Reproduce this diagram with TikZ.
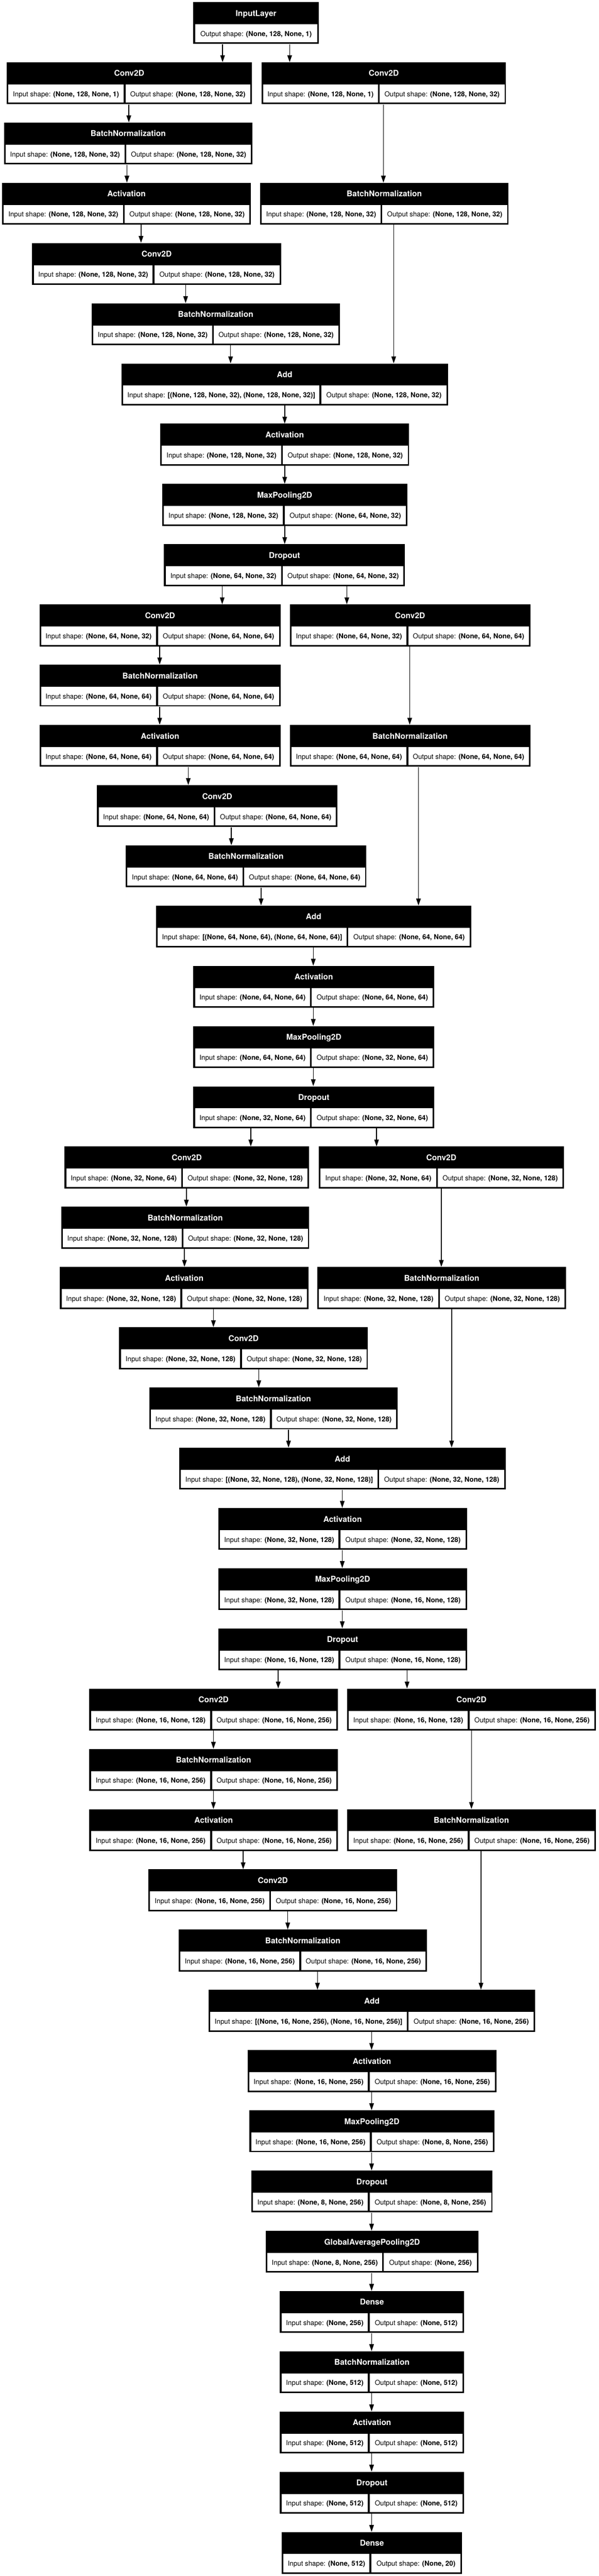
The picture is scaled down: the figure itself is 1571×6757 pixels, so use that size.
\documentclass[tikz,border=0pt]{standalone}
\usepackage{fontspec}
\setmainfont{TeX Gyre Heros}
\usetikzlibrary{arrows.meta,positioning}

\newcommand\cellfont{\fontsize{9}{10}\selectfont}
\newcommand\titlefont{\fontsize{10.5}{12}\selectfont\bfseries}

\tikzset{
  lbox/.style={fill=black, inner sep=0pt, minimum height=55pt, anchor=north west},
  lcell/.style={fill=white, inner sep=0pt, minimum height=24pt, anchor=north west,
    text height=8pt, text depth=0.5pt, font=\cellfont},
  ltitle/.style={text=white, inner sep=0pt, anchor=base, font=\titlefont},
  arr/.style={-{Triangle[length=9pt,width=6pt]}, line width=1pt},
}

% name, row, left, divider, right, class, input shape, output shape
\newcommand\nnlayer[8]{%
  \pgfmathsetmacro\ytop{5+158*#2}
  \node[lbox, minimum width={(#5-#3)*0.5pt}] (#1) at (#3,\ytop) {};
  \node[ltitle] (#1-t) at ([yshift=-18.5pt]#1.north) {#6};
  \node[lcell, minimum width={(#4-#3-6.5)*0.5pt}] (#1-i)
    at ([xshift=2.25pt,yshift=-29pt]#1.north west) {Input shape: \textbf{#7}};
  \node[lcell, minimum width={(#5-#4-6.5)*0.5pt}, right=2pt of #1-i.north east, anchor=north west] (#1-o)
    {Output shape: \textbf{#8}};
}
% name, row, left, right, class, output shape
\newcommand\nninput[6]{%
  \pgfmathsetmacro\ytop{5+158*#2}
  \node[lbox, minimum width={(#4-#3)*0.5pt}] (#1) at (#3,\ytop) {};
  \node[ltitle] (#1-t) at ([yshift=-18.5pt]#1.north) {#5};
  \node[lcell, minimum width={(#4-#3-9)*0.5pt}] (#1-o)
    at ([xshift=2.25pt,yshift=-29pt]#1.north west) {Output shape: \textbf{#6}};
}
% source, target, x of the edge
\newcommand\nnedge[3]{%
  \coordinate (ex) at (#3,0);
  \draw[arr] (#1.south -| ex) -- (#2.north -| ex);
}

\begin{document}
\begin{tikzpicture}[x=0.5pt, y=-0.5pt]
\fill[white] (0,0) rectangle (1571,6757);
\useasboundingbox (0,0) rectangle (1571,6757);

% block 1
\nninput{lay0}{0}{507}{836}{InputLayer}{(None, 128, None, 1)}
\nnlayer{lay1a}{1}{17}{326}{660}{Conv2D}{(None, 128, None, 1)}{(None, 128, None, 32)}
\nnlayer{lay1b}{1}{686}{993}{1327}{Conv2D}{(None, 128, None, 1)}{(None, 128, None, 32)}
\nnlayer{lay2}{2}{10}{328}{662}{BatchNormalization}{(None, 128, None, 32)}{(None, 128, None, 32)}
\nnlayer{lay3a}{3}{5}{324}{658}{Activation}{(None, 128, None, 32)}{(None, 128, None, 32)}
\nnlayer{lay3b}{3}{682}{1000}{1334}{BatchNormalization}{(None, 128, None, 32)}{(None, 128, None, 32)}
\nnlayer{lay4}{4}{84}{402}{737}{Conv2D}{(None, 128, None, 32)}{(None, 128, None, 32)}
\nnlayer{lay5}{5}{240}{558}{891}{BatchNormalization}{(None, 128, None, 32)}{(None, 128, None, 32)}
\nnlayer{lay6}{6}{318}{840}{1175}{Add}{[(None, 128, None, 32), (None, 128, None, 32)]}{(None, 128, None, 32)}
\nnlayer{lay7}{7}{420}{739}{1073}{Activation}{(None, 128, None, 32)}{(None, 128, None, 32)}
\nnlayer{lay8}{8}{425}{744}{1068}{MaxPooling2D}{(None, 128, None, 32)}{(None, 64, None, 32)}
\nnlayer{lay9}{9}{430}{739}{1062}{Dropout}{(None, 64, None, 32)}{(None, 64, None, 32)}
\nnedge{lay0}{lay1a}{584}
\nnedge{lay0}{lay1b}{760}
\nnedge{lay1a}{lay2}{338}
\nnedge{lay2}{lay3a}{333}
\nnedge{lay1b}{lay3b}{1006}
\nnedge{lay3a}{lay4}{370}
\nnedge{lay4}{lay5}{487}
\nnedge{lay5}{lay6}{605}
\nnedge{lay3b}{lay6}{1033}
\nnedge{lay6}{lay7}{747}
\nnedge{lay7}{lay8}{747}
\nnedge{lay8}{lay9}{747}

% block 2
\nnlayer{lay10a}{10}{103}{411}{736}{Conv2D}{(None, 64, None, 32)}{(None, 64, None, 64)}
\nnlayer{lay10b}{10}{760}{1068}{1391}{Conv2D}{(None, 64, None, 32)}{(None, 64, None, 64)}
\nnlayer{lay11}{11}{103}{411}{736}{BatchNormalization}{(None, 64, None, 64)}{(None, 64, None, 64)}
\nnlayer{lay12a}{12}{103}{411}{736}{Activation}{(None, 64, None, 64)}{(None, 64, None, 64)}
\nnlayer{lay12b}{12}{760}{1068}{1391}{BatchNormalization}{(None, 64, None, 64)}{(None, 64, None, 64)}
\nnlayer{lay13}{13}{254}{562}{885}{Conv2D}{(None, 64, None, 64)}{(None, 64, None, 64)}
\nnlayer{lay14}{14}{329}{638}{961}{BatchNormalization}{(None, 64, None, 64)}{(None, 64, None, 64)}
\nnlayer{lay15}{15}{409}{911}{1236}{Add}{[(None, 64, None, 64), (None, 64, None, 64)]}{(None, 64, None, 64)}
\nnlayer{lay16}{16}{507}{815}{1139}{Activation}{(None, 64, None, 64)}{(None, 64, None, 64)}
\nnlayer{lay17}{17}{507}{815}{1139}{MaxPooling2D}{(None, 64, None, 64)}{(None, 32, None, 64)}
\nnlayer{lay18}{18}{507}{815}{1139}{Dropout}{(None, 32, None, 64)}{(None, 32, None, 64)}
\nnedge{lay9}{lay10a}{583}
\nnedge{lay9}{lay10b}{910}
\nnedge{lay10a}{lay11}{419}
\nnedge{lay11}{lay12a}{419}
\nnedge{lay10b}{lay12b}{1075}
\nnedge{lay12a}{lay13}{494}
\nnedge{lay13}{lay14}{607}
\nnedge{lay14}{lay15}{685}
\nnedge{lay12b}{lay15}{1098}
\nnedge{lay15}{lay16}{822}
\nnedge{lay16}{lay17}{822}
\nnedge{lay17}{lay18}{822}

% block 3
\nnlayer{lay19a}{19}{169}{477}{810}{Conv2D}{(None, 32, None, 64)}{(None, 32, None, 128)}
\nnlayer{lay19b}{19}{836}{1146}{1479}{Conv2D}{(None, 32, None, 64)}{(None, 32, None, 128)}
\nnlayer{lay20}{20}{160}{478}{811}{BatchNormalization}{(None, 32, None, 128)}{(None, 32, None, 128)}
\nnlayer{lay21a}{21}{157}{475}{809}{Activation}{(None, 32, None, 128)}{(None, 32, None, 128)}
\nnlayer{lay21b}{21}{832}{1151}{1485}{BatchNormalization}{(None, 32, None, 128)}{(None, 32, None, 128)}
\nnlayer{lay22}{22}{312}{632}{965}{Conv2D}{(None, 32, None, 128)}{(None, 32, None, 128)}
\nnlayer{lay23}{23}{391}{710}{1043}{BatchNormalization}{(None, 32, None, 128)}{(None, 32, None, 128)}
\nnlayer{lay24}{24}{470}{992}{1326}{Add}{[(None, 32, None, 128), (None, 32, None, 128)]}{(None, 32, None, 128)}
\nnlayer{lay25}{25}{572}{890}{1225}{Activation}{(None, 32, None, 128)}{(None, 32, None, 128)}
\nnlayer{lay26}{26}{572}{890}{1225}{MaxPooling2D}{(None, 32, None, 128)}{(None, 16, None, 128)}
\nnlayer{lay27}{27}{572}{890}{1225}{Dropout}{(None, 16, None, 128)}{(None, 16, None, 128)}
\nnedge{lay18}{lay19a}{658}
\nnedge{lay18}{lay19b}{988}
\nnedge{lay19a}{lay20}{489}
\nnedge{lay20}{lay21a}{484}
\nnedge{lay19b}{lay21b}{1158}
\nnedge{lay21a}{lay22}{560}
\nnedge{lay22}{lay23}{679}
\nnedge{lay23}{lay24}{757}
\nnedge{lay21b}{lay24}{1185}
\nnedge{lay24}{lay25}{898}
\nnedge{lay25}{lay26}{898}
\nnedge{lay26}{lay27}{898}

% block 4
\nnlayer{lay28a}{28}{234}{553}{886}{Conv2D}{(None, 16, None, 128)}{(None, 16, None, 256)}
\nnlayer{lay28b}{28}{910}{1229}{1563}{Conv2D}{(None, 16, None, 128)}{(None, 16, None, 256)}
\nnlayer{lay29}{29}{234}{553}{886}{BatchNormalization}{(None, 16, None, 256)}{(None, 16, None, 256)}
\nnlayer{lay30a}{30}{234}{553}{886}{Activation}{(None, 16, None, 256)}{(None, 16, None, 256)}
\nnlayer{lay30b}{30}{910}{1229}{1563}{BatchNormalization}{(None, 16, None, 256)}{(None, 16, None, 256)}
\nnlayer{lay31}{31}{389}{708}{1042}{Conv2D}{(None, 16, None, 256)}{(None, 16, None, 256)}
\nnlayer{lay32}{32}{468}{787}{1120}{BatchNormalization}{(None, 16, None, 256)}{(None, 16, None, 256)}
\nnlayer{lay33}{33}{547}{1069}{1404}{Add}{[(None, 16, None, 256), (None, 16, None, 256)]}{(None, 16, None, 256)}
\nnlayer{lay34}{34}{649}{967}{1302}{Activation}{(None, 16, None, 256)}{(None, 16, None, 256)}
\nnlayer{lay35}{35}{654}{972}{1297}{MaxPooling2D}{(None, 16, None, 256)}{(None, 8, None, 256)}
\nnlayer{lay36}{36}{659}{967}{1292}{Dropout}{(None, 8, None, 256)}{(None, 8, None, 256)}
\nnedge{lay27}{lay28a}{730}
\nnedge{lay27}{lay28b}{1068}
\nnedge{lay28a}{lay29}{560}
\nnedge{lay29}{lay30a}{560}
\nnedge{lay28b}{lay30b}{1237}
\nnedge{lay30a}{lay31}{638}
\nnedge{lay31}{lay32}{755}
\nnedge{lay32}{lay33}{833}
\nnedge{lay30b}{lay33}{1262}
\nnedge{lay33}{lay34}{975}
\nnedge{lay34}{lay35}{975}
\nnedge{lay35}{lay36}{975}

% head
\nnlayer{lay37}{37}{697}{1004}{1255}{GlobalAveragePooling2D}{(None, 8, None, 256)}{(None, 256)}
\nnlayer{lay38}{38}{734}{967}{1217}{Dense}{(None, 256)}{(None, 512)}
\nnlayer{lay39}{39}{734}{967}{1217}{BatchNormalization}{(None, 512)}{(None, 512)}
\nnlayer{lay40}{40}{734}{967}{1217}{Activation}{(None, 512)}{(None, 512)}
\nnlayer{lay41}{41}{734}{967}{1217}{Dropout}{(None, 512)}{(None, 512)}
\nnlayer{lay42}{42}{739}{971}{1212}{Dense}{(None, 512)}{(None, 20)}
\nnedge{lay36}{lay37}{975}
\nnedge{lay37}{lay38}{975}
\nnedge{lay38}{lay39}{975}
\nnedge{lay39}{lay40}{975}
\nnedge{lay40}{lay41}{975}
\nnedge{lay41}{lay42}{975}
\end{tikzpicture}
\end{document}
